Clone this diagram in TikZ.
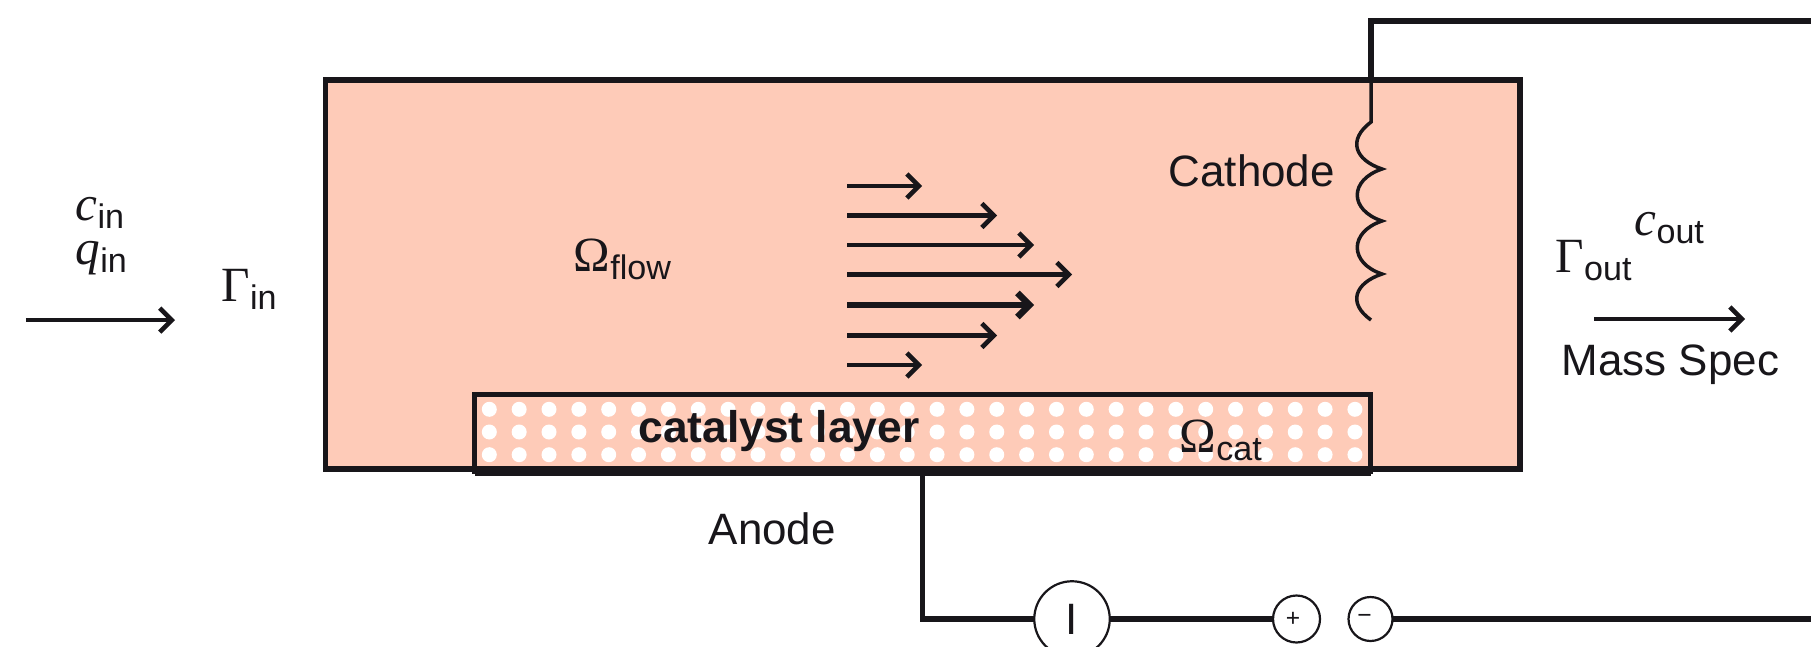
\documentclass[tikz,border=0pt]{standalone}
\usepackage{fontspec}
\setmainfont{Liberation Sans}
\newfontfamily\serfont{Liberation Serif}
\usetikzlibrary{arrows.meta}
\definecolor{cellfill}{RGB}{254,203,184}
\definecolor{ink}{RGB}{24,22,26}

\newcommand{\subtxt}[1]{\raisebox{-0.085cm}{\fontsize{9.7}{11}\selectfont #1}}
\newcommand{\symsub}[2]{{\fontsize{14}{16}\selectfont\serfont #1}\subtxt{#2}}
\newcommand{\varsub}[2]{{\fontsize{14}{16}\selectfont\serfont\itshape #1}\subtxt{#2}}

\tikzset{
    txt/.style={anchor=base west, inner sep=0pt, text=ink, font=\fontsize{12.5}{15}\selectfont},
    cellbox/.style={draw=ink, fill=cellfill, line width=0.055cm, outer sep=0pt, inner sep=0pt},
    wire/.style={draw=ink, line width=0.058cm},
    flow/.style={draw=ink, line width=0.046cm, -{Straight Barb[length=1.2mm,width=2.4mm]}},
    meter/.style={circle, draw=ink, fill=white, line width=0.022cm, inner sep=0pt, outer sep=0pt, text=ink},
}

\begin{document}
\begin{tikzpicture}
    \clip (0,0) rectangle (18.11,6.46);
    \useasboundingbox (0,0) rectangle (18.11,6.46);

    % flow cell and catalyst
    \node[cellbox, minimum width=11.945cm, minimum height=3.89cm] (cell) at (9.2275,3.715) {};
    \node[cellbox, minimum width=8.96cm, minimum height=0.765cm] (catalyst) at (9.225,2.135) {};
    \foreach \i in {0,...,29} {
        \foreach \y in {2.367,2.14,1.913} {
            \fill[white] ({4.893+0.2985*\i},\y) circle (0.075);
        }
    }
    \draw[ink, line width=0.1cm] (catalyst.south west) -- (catalyst.south east);

    % velocity profile
    \foreach \y/\xend in {4.60/9.22,4.305/9.97,4.01/10.34,3.715/10.72,3.105/9.97,2.81/9.22} {
        \draw[flow] (8.47,\y) -- (\xend,\y);
    }
    \draw[flow, line width=0.065cm] (8.47,3.41) -- (10.34,3.41);

    % outer circuit
    \coordinate (celltop) at (13.71,5.66);
    \coordinate (coiltop) at (13.71,5.24);
    \coordinate (rightup) at (18.11,6.25);
    \coordinate (rightlow) at (18.11,0.27);
    \coordinate (corner) at (9.225,0.27);
    \node[meter, minimum size=0.755cm, font=\fontsize{12.5}{15}\selectfont] (current) at (10.72,0.27) {I};
    \node[meter, minimum size=0.47cm, font=\fontsize{7}{8}\selectfont] (plus) at (12.965,0.27) {+\kern0.07cm};
    \node[meter, minimum size=0.44cm, font=\fontsize{7}{8}\selectfont] (minus) at (13.705,0.27) {−\kern0.12cm};
    \draw[wire] (catalyst.south) -- (corner) -- (current);
    \draw[wire] (current) -- (plus);
    \draw[wire] (minus) -- (rightlow);
    \draw[wire] (rightup) -| (celltop);
    \draw[ink, line width=0.035cm] (celltop) -- (coiltop)
        .. controls (13.47,5.06) and (13.55,4.86) .. (13.82,4.77)
        .. controls (13.49,4.66) and (13.49,4.36) .. (13.82,4.25)
        .. controls (13.49,4.14) and (13.49,3.83) .. (13.82,3.72)
        .. controls (13.55,3.63) and (13.47,3.43) .. (13.71,3.26);

    % inlet and outlet
    \coordinate (inleft) at (0.26,3.26);
    \coordinate (inright) at (1.75,3.26);
    \coordinate (outleft) at (15.94,3.27);
    \coordinate (outright) at (17.45,3.27);
    \draw[flow] (inleft) -- (inright);
    \draw[flow] (outleft) -- (outright);

    % labels
    \node[txt] (cin) at (0.75,4.26) {\varsub{c}{in}};
    \node[txt] (qin) at (0.75,3.82) {\varsub{q}{in}};
    \node[txt] (gammain) at (2.21,3.45) {\symsub{Γ}{in}};
    \node[txt] (omegaflow) at (5.73,3.75) {\symsub{Ω}{flow}};
    \node[txt, font=\fontsize{12.6}{15}\selectfont\bfseries] (catlabel) at (6.38,2.04) {catalyst layer};
    \node[txt] (omegacat) at (11.79,1.94) {\symsub{Ω}{cat}};
    \node[txt] (anode) at (7.08,1.02) {Anode};
    \node[txt] (cathode) at (11.68,4.60) {Cathode};
    \node[txt] (gammaout) at (15.55,3.74) {\symsub{Γ}{out}};
    \node[txt] (cout) at (16.34,4.11) {\varsub{c}{out}};
    \node[txt] (massspec) at (15.61,2.71) {Mass Spec};
\end{tikzpicture}
\end{document}
